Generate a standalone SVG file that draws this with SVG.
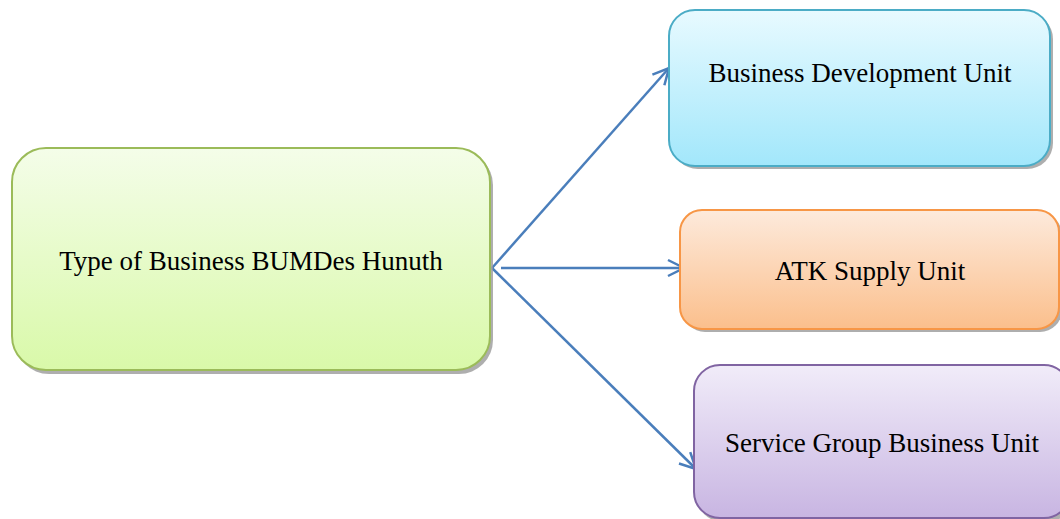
<svg xmlns="http://www.w3.org/2000/svg" width="1060" height="519" viewBox="0 0 1060 519">
<defs>
<linearGradient id="gGreen" x1="0" y1="0" x2="0" y2="1"><stop offset="0" stop-color="#f4fde9"/><stop offset="1" stop-color="#d9f9a9"/></linearGradient>
<linearGradient id="gBlue" x1="0" y1="0" x2="0" y2="1"><stop offset="0" stop-color="#e8faff"/><stop offset="1" stop-color="#a2e7fb"/></linearGradient>
<linearGradient id="gOrange" x1="0" y1="0" x2="0" y2="1"><stop offset="0" stop-color="#fdeadc"/><stop offset="1" stop-color="#fbbf8c"/></linearGradient>
<linearGradient id="gPurple" x1="0" y1="0" x2="0" y2="1"><stop offset="0" stop-color="#f1ecf9"/><stop offset="1" stop-color="#c8b5e2"/></linearGradient>
<marker id="arr" viewBox="0 0 22 22" refX="19" refY="11" markerWidth="22" markerHeight="22" markerUnits="userSpaceOnUse" orient="auto">
<path d="M3,3 L19,11 L3,19" fill="none" stroke="#4a7ebb" stroke-width="2.5"/>
</marker>
</defs>
<style>
text{font-family:"Liberation Serif","DejaVu Serif",serif;fill:#000;text-anchor:middle;font-size:27px}
.shadow{fill:#9a9a9a;opacity:0.8}
.edge{fill:none;stroke:#4a7ebb;stroke-width:2.5;marker-end:url(#arr)}
</style>
<rect width="1060" height="519" fill="#ffffff"/>
<g id="connectors">
<line class="edge" x1="492" y1="268" x2="669" y2="68"/>
<line class="edge" x1="501" y1="268" x2="684" y2="268"/>
<line class="edge" x1="492" y1="268" x2="696" y2="469"/>
</g>
<g id="node-main">
<rect class="shadow" x="15" y="151" width="478" height="223" rx="34"/>
<rect x="12" y="148" width="478" height="222" rx="34" fill="url(#gGreen)" stroke="#9bbb59" stroke-width="2"/>
<text x="251" y="270">Type of Business BUMDes Hunuth</text>
</g>
<g id="node-bdu">
<rect class="shadow" x="672" y="13" width="381" height="156" rx="26"/>
<rect x="669" y="10" width="381" height="156" rx="26" fill="url(#gBlue)" stroke="#4bacc6" stroke-width="2"/>
<text x="860" y="82">Business Development Unit</text>
</g>
<g id="node-atk">
<rect class="shadow" x="683" y="213" width="379" height="119" rx="22"/>
<rect x="680" y="210" width="379" height="119" rx="22" fill="url(#gOrange)" stroke="#f79646" stroke-width="2"/>
<text x="870" y="280">ATK Supply Unit</text>
</g>
<g id="node-sgbu">
<rect class="shadow" x="697" y="368" width="376" height="154" rx="26"/>
<rect x="694" y="365" width="376" height="153" rx="26" fill="url(#gPurple)" stroke="#8064a2" stroke-width="2"/>
<text x="882" y="452">Service Group Business Unit</text>
</g>
</svg>
